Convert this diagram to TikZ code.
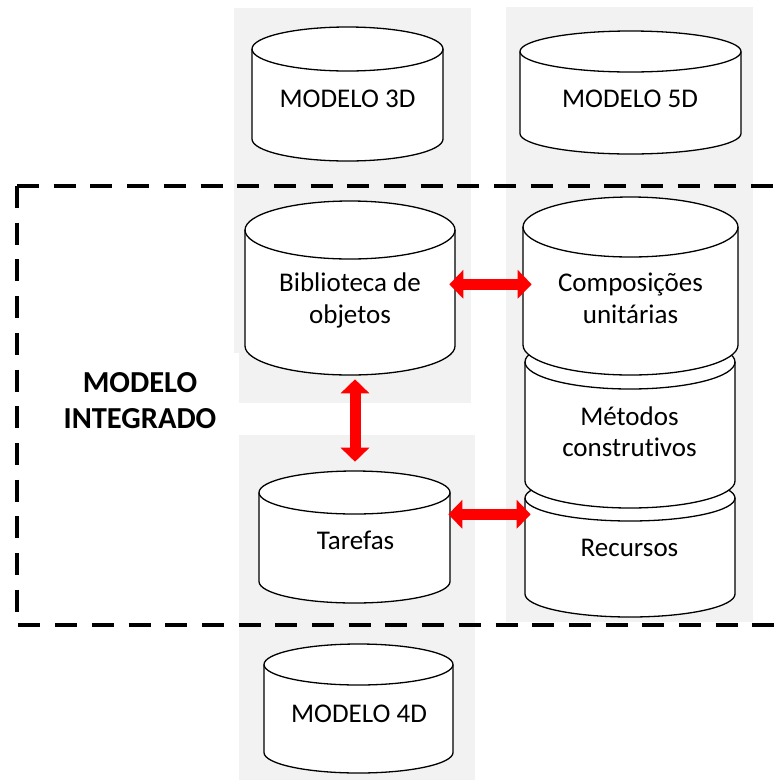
\documentclass[tikz,border=0pt]{standalone}
\usepackage{fontspec}
\setmainfont[Ligatures=NoCommon]{Carlito}
\usetikzlibrary{arrows.meta}

\definecolor{panelgray}{HTML}{F2F2F2}
\definecolor{arrowred}{HTML}{FF0000}

% cylinder: name, left x, right x, top y, bottom y, ellipse half-height
\newcommand{\cylshape}[6]{%
  \path[cylline,fill=white] (#2,#4+#6) -- (#2,#5-#6)
    arc[start angle=180,end angle=0,x radius={(#3-#2)/2},y radius=#6]
    -- (#3,#4+#6)
    arc[start angle=0,end angle=-180,x radius={(#3-#2)/2},y radius=#6] -- cycle;
  \draw[cylline] (#2,#4+#6)
    arc[start angle=180,end angle=0,x radius={(#3-#2)/2},y radius=#6];
  \node[cylbox,minimum width={(#3-#2)*1pt},minimum height={(#5-#4)*1pt}]
    (#1) at ({(#2+#3)/2},{(#4+#5)/2}) {};
}
\newcommand{\twolines}[2]{\begin{tabular}[t]{@{}c@{}}#1\\#2\end{tabular}}

\begin{document}
\begin{tikzpicture}[x=1pt,y=-1pt,
  cylline/.style={draw=black,line width=1.3pt},
  cylbox/.style={rectangle,draw=none,inner sep=0pt,outer sep=0pt},
  lbl/.style={inner sep=0pt,anchor=base,font=\fontsize{27}{31.7}\selectfont},
  boldlbl/.style={inner sep=0pt,anchor=base,font=\fontsize{30.5}{36}\selectfont\bfseries},
  panel/.style={fill=panelgray,draw=none},
  frame/.style={draw=black,line width=4pt,dash pattern=on 22pt off 14.7pt},
  biarrow/.style={draw=arrowred,line width=11pt,
    {Triangle[length=14pt,width=28pt]}-{Triangle[length=14pt,width=28pt]}}
]
\useasboundingbox (0,0) rectangle (782,780);

% grey column panels
\path[panel] (234,8) rectangle (470.7,353);
\path[panel] (239,340) rectangle (470.7,403);
\path[panel] (239,435) rectangle (475,780);
\path[panel] (505.7,7) rectangle (752.7,621.7);

% dashed frame of the integrated model (open to the right)
\draw[frame] (17,186) -- (790,186);
\draw[frame] (17,186) -- (17,625) -- (790,625);

% databases
\cylshape{m3d}{252}{443}{27}{161}{22}
\cylshape{m5d}{520}{741}{31}{154}{20.5}
\cylshape{bib}{245}{455}{201}{375}{29}
\cylshape{rec}{525}{735}{475}{617}{23}
\cylshape{met}{525}{735}{335}{508}{27}
\cylshape{comp}{523}{738}{197}{375}{30}
\cylshape{tar}{259}{450}{471}{603}{21.5}
\cylshape{m4d}{264}{453}{644}{773}{20.5}

% labels
\node[lbl] (t3d) at (347.5,107.3) {MODELO 3D};
\node[lbl] (t5d) at (630,107.3) {MODELO 5D};
\node[lbl] (tbib) at (350,291.7) {\twolines{Biblioteca de}{objetos}};
\node[lbl] (tcomp) at (630.5,291.7) {\twolines{Composições}{unitárias}};
\node[lbl] (tmet) at (629.5,425) {\twolines{Métodos}{construtivos}};
\node[lbl] (trec) at (629.5,556) {Recursos};
\node[lbl] (ttar) at (355.5,549.3) {Tarefas};
\node[lbl] (t4d) at (359,722.3) {MODELO 4D};
\node[boldlbl] (tint) at (140,392) {\twolines{MODELO}{INTEGRADO}};

% links between the databases
\draw[biarrow] ([shift={(-5.7,-3.7)}]bib.east) -- ([shift={(8.7,-1.7)}]comp.west);
\draw[biarrow] ([shift={(5,4.3)}]bib.south) -- ([shift={(0.5,-9.3)}]tar.north);
\draw[biarrow] ([shift={(-1.7,-22.7)}]tar.east) -- ([shift={(5.7,-31.7)}]rec.west);
\end{tikzpicture}
\end{document}
